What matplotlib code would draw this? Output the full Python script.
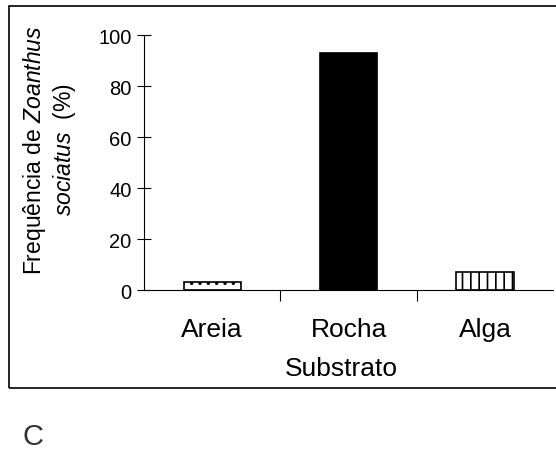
import matplotlib.pyplot as plt
from matplotlib.patches import Rectangle
from matplotlib.transforms import blended_transform_factory

plt.rcParams['font.family'] = 'Liberation Sans'
plt.rcParams['mathtext.fontset'] = 'custom'
plt.rcParams['mathtext.it'] = 'Liberation Sans:italic'
plt.rcParams['mathtext.rm'] = 'Liberation Sans'
plt.rcParams['hatch.linewidth'] = 1.2

# frequency of Zoanthus sociatus per substrate (%)
substratos = ['Areia', 'Rocha', 'Alga']
frequencia = [3, 93, 7]
cores = ['white', 'black', 'white']
hachuras = ['..', '', '||']

fig = plt.figure(figsize=(5.56, 4.52), dpi=100)
ax = fig.add_axes([0.259, 0.356, 0.736, 0.564])

x = range(len(substratos))
for i in x:
    ax.bar(i, frequencia[i], width=0.42, color=cores[i], edgecolor='black',
           hatch=hachuras[i], linewidth=1.2)

ax.set_xlim(-0.5, 2.5)
ax.set_ylim(0, 100)
ax.set_yticks([0, 20, 40, 60, 80, 100])
ax.set_xticks([0.5, 1.5])
ax.set_xticklabels([])
ax.tick_params(axis='y', direction='inout', length=10, labelsize=14.5, pad=4)
ax.tick_params(axis='x', direction='out', length=8)
for s in ['top', 'right']:
    ax.spines[s].set_visible(False)

# category names under the bars
trans = blended_transform_factory(ax.transData, fig.transFigure)
for i in x:
    ax.text(i, 1 - 330 / 452, substratos[i], transform=trans,
            ha='center', va='center', fontsize=19)
fig.text(341 / 556, 1 - 369 / 452, 'Substrato', ha='center', va='center', fontsize=19)

fig.text(35 / 556, 1 - 150 / 452, r'Frequência de $\it{Zoanthus}$',
         rotation=90, ha='center', va='center', fontsize=16.5)
fig.text(65 / 556, 1 - 150 / 452, r'$\it{sociatus}$  (%)',
         rotation=90, ha='center', va='center', fontsize=16.5)

# outer frame
fig.patches.append(Rectangle((9 / 556, 1 - 389 / 452), 1.0, 382 / 452,
                             transform=fig.transFigure, fill=False,
                             edgecolor='black', linewidth=1.2))

fig.text(22 / 556, 1 - 437 / 452, 'C', ha='left', va='center', fontsize=21,
         color='#333333')

fig.savefig('out.png', dpi=100)
